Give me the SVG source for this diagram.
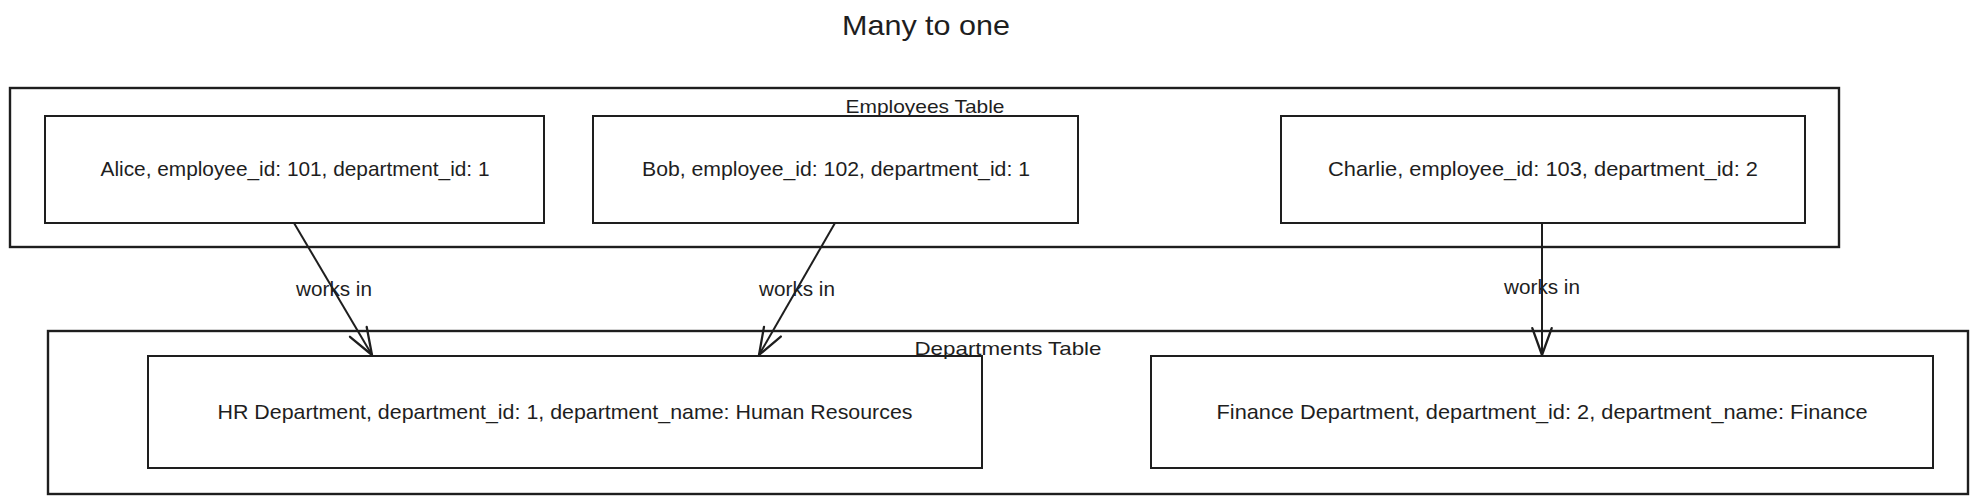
<svg xmlns="http://www.w3.org/2000/svg" width="1978" height="503" viewBox="0 0 1978 503">
  <defs>
    <style>
      .box { fill: none; stroke: #1e1e1e; stroke-width: 2; }
      .frame { fill: none; stroke: #1e1e1e; stroke-width: 2.4; }
      .edge { fill: none; stroke: #1e1e1e; stroke-width: 2; }
      .t { font-family: "Liberation Sans", Arial, sans-serif; fill: #1e1e1e; text-anchor: middle; }
      .node { font-size: 21px; }
      .grp { font-size: 19px; }
      .lbl { font-size: 20px; }
      .title { font-size: 28px; }
    </style>
    <marker id="arrow" markerUnits="userSpaceOnUse" markerWidth="40" markerHeight="40" viewBox="-30 -15 35 30" refX="0" refY="0" orient="auto">
      <path d="M -23.5 -8.5 L 0 0 L -23.5 8.5" fill="none" stroke="#1e1e1e" stroke-width="2" stroke-linecap="round" stroke-linejoin="round"/>
    </marker>
  </defs>
  <rect width="1978" height="503" fill="#ffffff"/>

  <g id="title">
    <text class="t title" x="926" y="35" textLength="168" lengthAdjust="spacingAndGlyphs">Many to one</text>
  </g>

  <g id="employees-table">
    <rect class="frame" x="10" y="88" width="1829" height="159"/>
    <text class="t grp" x="925" y="113" textLength="159" lengthAdjust="spacingAndGlyphs">Employees Table</text>
  </g>

  <g id="departments-table">
    <rect class="frame" x="48" y="331" width="1920" height="163"/>
    <text class="t grp" x="1008" y="355" textLength="187" lengthAdjust="spacingAndGlyphs">Departments Table</text>
  </g>

  <g id="alice">
    <rect class="box" x="45" y="116" width="499" height="107"/>
    <text class="t node" x="295" y="176" textLength="389" lengthAdjust="spacingAndGlyphs">Alice, employee_id: 101, department_id: 1</text>
  </g>

  <g id="bob">
    <rect class="box" x="593" y="116" width="485" height="107"/>
    <text class="t node" x="836" y="176" textLength="388" lengthAdjust="spacingAndGlyphs">Bob, employee_id: 102, department_id: 1</text>
  </g>

  <g id="charlie">
    <rect class="box" x="1281" y="116" width="524" height="107"/>
    <text class="t node" x="1543" y="176" textLength="430" lengthAdjust="spacingAndGlyphs">Charlie, employee_id: 103, department_id: 2</text>
  </g>

  <g id="hr">
    <rect class="box" x="148" y="356" width="834" height="112"/>
    <text class="t node" x="565" y="419" textLength="695" lengthAdjust="spacingAndGlyphs">HR Department, department_id: 1, department_name: Human Resources</text>
  </g>

  <g id="finance">
    <rect class="box" x="1151" y="356" width="782" height="112"/>
    <text class="t node" x="1542" y="419" textLength="651" lengthAdjust="spacingAndGlyphs">Finance Department, department_id: 2, department_name: Finance</text>
  </g>

  <g id="connectors">
    <path class="edge" d="M 294 223 L 372 355" marker-end="url(#arrow)"/>
    <path class="edge" d="M 835 223 L 759 355" marker-end="url(#arrow)"/>
    <path class="edge" d="M 1542 223 L 1542 355" marker-end="url(#arrow)"/>
    <text class="t lbl" x="334" y="296" textLength="76" lengthAdjust="spacingAndGlyphs">works in</text>
    <text class="t lbl" x="797" y="296" textLength="76" lengthAdjust="spacingAndGlyphs">works in</text>
    <text class="t lbl" x="1542" y="294" textLength="76" lengthAdjust="spacingAndGlyphs">works in</text>
  </g>
</svg>
